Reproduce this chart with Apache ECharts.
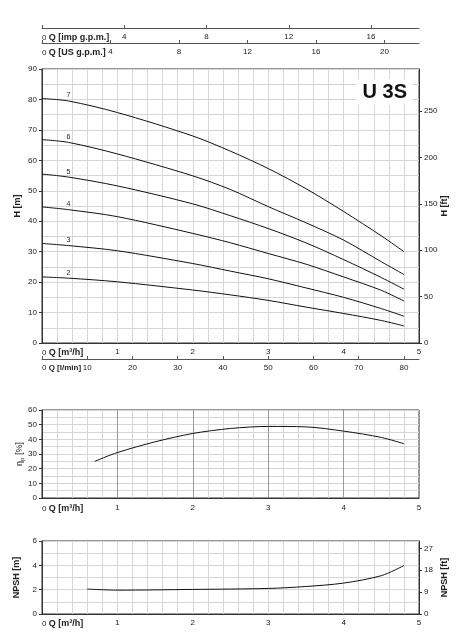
<!DOCTYPE html>
<html lang="en">

<head>
    <meta charset="UTF-8">
    <title>U 3S</title>
    <script src="https://cdn.jsdelivr.net/npm/echarts@6/dist/echarts.min.js"></script>
    <style>
        body {
            margin: 0;
            background: #fff;
        }

        #chart {
            width: 457px;
            height: 632px;
        }
    </style>
</head>

<body>
    <div id="chart"></div>
    <script>
        // Q [m3/h] points
        var qHead = [0, 0.35, 1, 2, 2.5, 3, 3.5, 4, 4.5, 4.8];
        var head2 = [21.7, 21.3, 20.1, 17.4, 15.8, 14.0, 11.8, 9.7, 7.4, 5.6];
        var head3 = [32.7, 32.0, 30.3, 26.1, 23.6, 21.1, 18.1, 15.0, 11.3, 8.8];
        var head4 = [44.7, 43.8, 41.5, 36.0, 32.9, 29.4, 25.9, 21.7, 17.3, 13.8];
        var head5 = [55.5, 54.5, 51.6, 45.7, 41.8, 37.6, 32.9, 27.4, 21.5, 17.7];
        var head6 = [66.8, 65.9, 62.1, 54.9, 50.4, 44.8, 39.5, 33.8, 26.7, 22.5];
        var head7 = [80.3, 79.5, 75.7, 68.0, 63.0, 57.3, 50.7, 43.2, 35.2, 30.0];
        var stages = ['2', '3', '4', '5', '6', '7'];

        var qEff = [0.7, 1, 1.5, 2, 2.5, 3, 3.5, 4, 4.5, 4.8];
        var eff = [25, 31, 38.3, 44, 47.4, 48.8, 48.5, 45.6, 41.3, 37];

        var qNpsh = [0.6, 1, 2, 3, 3.5, 4, 4.5, 4.8];
        var npsh = [2.05, 1.96, 2.02, 2.1, 2.26, 2.54, 3.15, 3.98];

        var FONT = 'Liberation Sans, Arial, sans-serif';
        var txt = '#222';
        var frame = '#333';
        var light = '#d6d6d6';

        function pairs(xs, ys) {
            return xs.map(function (x, i) { return [x, ys[i]]; });
        }

        function qLabel(name) {
            return function (v) {
                return v === 0 ? '{z|0} {n|' + name + '}' : v;
            };
        }
        function richQ(size) {
            return {
                z: { fontSize: 8, color: txt, fontFamily: FONT },
                n: { fontSize: size || 9, fontWeight: 'bold', color: txt, fontFamily: FONT }
            };
        }

        function flowAxis(grid, majorColor, margin) {
            return {
                type: 'value', gridIndex: grid, min: 0, max: 5, interval: 1,
                axisLine: { onZero: false, lineStyle: { color: frame } },
                axisTick: { show: false },
                minorTick: { show: false, splitNumber: 5 },
                axisLabel: {
                    fontSize: 8, color: txt, fontFamily: FONT, margin: margin,
                    formatter: qLabel('Q [m³/h]'), rich: richQ(), alignMinLabel: 'left'
                },
                splitLine: { show: true, lineStyle: { color: majorColor, width: 1 } },
                minorSplitLine: { show: true, lineStyle: { color: light, width: 1 } }
            };
        }

        function sideAxis(grid, pos, offset, max, interval, name, nameSize) {
            return {
                type: 'value', gridIndex: grid, position: pos, offset: offset,
                min: 0, max: max, interval: interval,
                axisLine: { show: true, onZero: false, lineStyle: { color: '#555' } },
                axisTick: { show: true, inside: pos === 'bottom', length: 3, lineStyle: { color: '#555' } },
                axisLabel: {
                    inside: pos === 'top', fontSize: 8, color: txt, fontFamily: FONT, margin: 5,
                    showMinLabel: true, showMaxLabel: false, hideOverlap: false,
                    formatter: qLabel(name), rich: richQ(nameSize), alignMinLabel: 'left'
                },
                splitLine: { show: false }
            };
        }

        function valAxis(grid, pos, max, interval, name, gap, minorSplit, nameStyle) {
            return {
                type: 'value', gridIndex: grid, position: pos, min: 0, max: max, interval: interval,
                name: name, nameLocation: 'middle', nameRotate: 90, nameGap: gap, nameMoveOverlap: false,
                nameTextStyle: nameStyle || { fontSize: 9, fontWeight: 'bold', color: txt, fontFamily: FONT },
                axisLine: { show: true, onZero: false, lineStyle: { color: frame } },
                axisTick: { show: true, length: 3, lineStyle: { color: frame } },
                axisLabel: { fontSize: 8, color: txt, fontFamily: FONT, margin: 5, showMaxLabel: pos === 'left' },
                splitLine: { show: pos === 'left', lineStyle: { color: light, width: 1 } },
                minorTick: { show: false, splitNumber: minorSplit || 2 },
                minorSplitLine: { show: pos === 'left' && !!minorSplit, lineStyle: { color: light, width: 1 } }
            };
        }

        var heads = [head2, head3, head4, head5, head6, head7];
        var series = heads.map(function (h, k) {
            return {
                type: 'line', xAxisIndex: 0, yAxisIndex: 0, data: pairs(qHead, h), smooth: 0.3,
                symbol: 'none', lineStyle: { color: '#111', width: 1 }, silent: true,
                // stage number written just above the curve
                markPoint: {
                    symbol: 'circle', symbolSize: 0, silent: true,
                    label: { show: true, position: 'top', distance: 2, fontSize: 7, color: txt, fontFamily: FONT, formatter: stages[k] },
                    data: [{ coord: [qHead[1], h[1]] }]
                }
            };
        });
        series.push({
            type: 'line', xAxisIndex: 4, yAxisIndex: 2, data: pairs(qEff, eff), smooth: 0.3,
            symbol: 'none', lineStyle: { color: '#111', width: 1 }, silent: true
        });
        series.push({
            type: 'line', xAxisIndex: 5, yAxisIndex: 3, data: pairs(qNpsh, npsh), smooth: 0.3,
            symbol: 'none', lineStyle: { color: '#111', width: 1 }, silent: true
        });

        var myChart = echarts.init(document.getElementById('chart'));
        myChart.setOption({
            animation: false,
            textStyle: { fontFamily: FONT },
            title: {
                text: 'U 3S', right: 44, top: 79, backgroundColor: '#fff', padding: [3, 6],
                textStyle: { fontSize: 20, fontWeight: 'bold', color: '#111', fontFamily: FONT }
            },
            grid: [
                { left: 42, top: 69, width: 377, height: 274, show: true, borderColor: frame, borderWidth: 1, outerBoundsMode: 'none' },
                { left: 42, top: 410, width: 377, height: 88, show: true, borderColor: frame, borderWidth: 1, outerBoundsMode: 'none' },
                { left: 42, top: 541, width: 377, height: 73, show: true, borderColor: frame, borderWidth: 1, outerBoundsMode: 'none' }
            ],
            xAxis: [
                flowAxis(0, light, 5),
                sideAxis(0, 'bottom', 16, 83.333, 10, 'Q [l/min]', 8),
                sideAxis(0, 'top', 41, 18.333, 4, 'Q [imp g.p.m.]', 9),
                sideAxis(0, 'top', 26, 22.015, 4, 'Q [US g.p.m.]', 9),
                flowAxis(1, '#999', 6),
                flowAxis(2, light, 5)
            ],
            yAxis: [
                valAxis(0, 'left', 90, 10, 'H [m]', 20, 2),
                valAxis(0, 'right', 295.28, 50, 'H [ft]', 21),
                valAxis(1, 'left', 60, 10, '{a|η}{s|p}{a| [%]}', 17, 2, {
                    color: txt, fontFamily: FONT,
                    rich: {
                        a: { fontSize: 9, color: txt, fontFamily: FONT },
                        s: { fontSize: 6, color: txt, fontFamily: FONT, verticalAlign: 'bottom', padding: [4, 0, 0, 0] }
                    }
                }),
                valAxis(2, 'left', 6, 2, 'NPSH [m]', 21, 2),
                valAxis(2, 'right', 30, 9, 'NPSH [ft]', 21)
            ],
            series: series
        });
    </script>
</body>

</html>
